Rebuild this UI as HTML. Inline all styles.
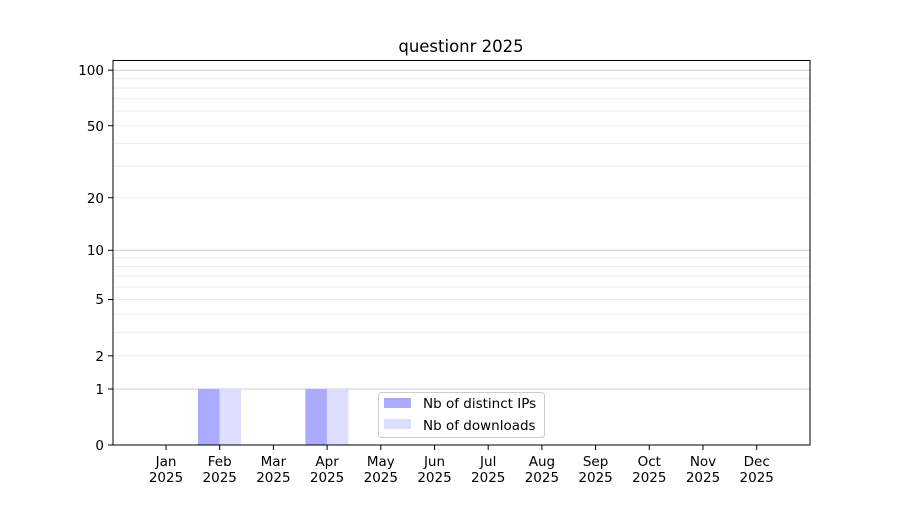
<!DOCTYPE html>
<html><head><meta charset="utf-8"><style>
body{margin:0;background:#fff}
svg text{font-family:"DejaVu Sans","Liberation Sans",sans-serif;fill:#000}
</style></head><body>
<svg width="900" height="500" xmlns="http://www.w3.org/2000/svg">
<rect width="900" height="500" fill="#fff"/>
<g stroke="#ebebeb" stroke-width="1">
<line x1="113" x2="810" y1="355.8" y2="355.8"/>
<line x1="113" x2="810" y1="332.4" y2="332.4"/>
<line x1="113" x2="810" y1="314.3" y2="314.3"/>
<line x1="113" x2="810" y1="299.5" y2="299.5"/>
<line x1="113" x2="810" y1="287.0" y2="287.0"/>
<line x1="113" x2="810" y1="276.1" y2="276.1"/>
<line x1="113" x2="810" y1="266.5" y2="266.5"/>
<line x1="113" x2="810" y1="258.0" y2="258.0"/>
<line x1="113" x2="810" y1="197.7" y2="197.7"/>
<line x1="113" x2="810" y1="166.1" y2="166.1"/>
<line x1="113" x2="810" y1="143.4" y2="143.4"/>
<line x1="113" x2="810" y1="125.7" y2="125.7"/>
<line x1="113" x2="810" y1="111.1" y2="111.1"/>
<line x1="113" x2="810" y1="98.8" y2="98.8"/>
<line x1="113" x2="810" y1="88.1" y2="88.1"/>
<line x1="113" x2="810" y1="78.7" y2="78.7"/>
</g>
<g stroke="#cccccc" stroke-width="1">
<line x1="113" x2="810" y1="389" y2="389"/>
<line x1="113" x2="810" y1="250.3" y2="250.3"/>
<line x1="113" x2="810" y1="70.2" y2="70.2"/>
</g>
<rect x="198" y="389" width="21.5" height="56" fill="#aaaaff"/>
<rect x="219.5" y="389" width="21.5" height="56" fill="#ddddff"/>
<rect x="305.4" y="389" width="21.5" height="56" fill="#aaaaff"/>
<rect x="326.9" y="389" width="21.5" height="56" fill="#ddddff"/>
<rect x="113" y="60.5" width="697" height="384.5" fill="none" stroke="#000" stroke-width="1"/>
<g stroke="#000" stroke-width="1">
<line x1="108" x2="113" y1="445" y2="445"/>
<line x1="108" x2="113" y1="389" y2="389"/>
<line x1="108" x2="113" y1="355.8" y2="355.8"/>
<line x1="108" x2="113" y1="299.5" y2="299.5"/>
<line x1="108" x2="113" y1="250.3" y2="250.3"/>
<line x1="108" x2="113" y1="197.7" y2="197.7"/>
<line x1="108" x2="113" y1="125.7" y2="125.7"/>
<line x1="108" x2="113" y1="70.2" y2="70.2"/>
</g>
<g font-size="13.5" text-anchor="end">
<text x="104" y="450">0</text>
<text x="104" y="394">1</text>
<text x="104" y="361">2</text>
<text x="104" y="304">5</text>
<text x="104" y="255">10</text>
<text x="104" y="203">20</text>
<text x="104" y="131">50</text>
<text x="104" y="75">100</text>
</g>
<g stroke="#000" stroke-width="1">
<line x1="166" x2="166" y1="445" y2="450"/>
<line x1="219.7" x2="219.7" y1="445" y2="450"/>
<line x1="273.4" x2="273.4" y1="445" y2="450"/>
<line x1="327.1" x2="327.1" y1="445" y2="450"/>
<line x1="380.8" x2="380.8" y1="445" y2="450"/>
<line x1="434.5" x2="434.5" y1="445" y2="450"/>
<line x1="488.2" x2="488.2" y1="445" y2="450"/>
<line x1="541.9" x2="541.9" y1="445" y2="450"/>
<line x1="595.6" x2="595.6" y1="445" y2="450"/>
<line x1="649.3" x2="649.3" y1="445" y2="450"/>
<line x1="703" x2="703" y1="445" y2="450"/>
<line x1="756.7" x2="756.7" y1="445" y2="450"/>
</g>
<g font-size="13.5" text-anchor="middle">
<text x="166" y="466">Jan</text><text x="166" y="482">2025</text>
<text x="219.7" y="466">Feb</text><text x="219.7" y="482">2025</text>
<text x="273.4" y="466">Mar</text><text x="273.4" y="482">2025</text>
<text x="327.1" y="466">Apr</text><text x="327.1" y="482">2025</text>
<text x="380.8" y="466">May</text><text x="380.8" y="482">2025</text>
<text x="434.5" y="466">Jun</text><text x="434.5" y="482">2025</text>
<text x="488.2" y="466">Jul</text><text x="488.2" y="482">2025</text>
<text x="541.9" y="466">Aug</text><text x="541.9" y="482">2025</text>
<text x="595.6" y="466">Sep</text><text x="595.6" y="482">2025</text>
<text x="649.3" y="466">Oct</text><text x="649.3" y="482">2025</text>
<text x="703" y="466">Nov</text><text x="703" y="482">2025</text>
<text x="756.7" y="466">Dec</text><text x="756.7" y="482">2025</text>
</g>
<text x="461" y="52" font-size="16.5" text-anchor="middle">questionr 2025</text>
<rect x="378.5" y="392.5" width="166" height="45" rx="3" fill="#fff" fill-opacity="0.8" stroke="#cccccc"/>
<rect x="384" y="398" width="27" height="10" fill="#aaaaff"/>
<rect x="384" y="419" width="27" height="10" fill="#ddddff"/>
<g font-size="13.5">
<text x="423" y="408">Nb of distinct IPs</text>
<text x="423" y="430">Nb of downloads</text>
</g>
</svg>
</body></html>
